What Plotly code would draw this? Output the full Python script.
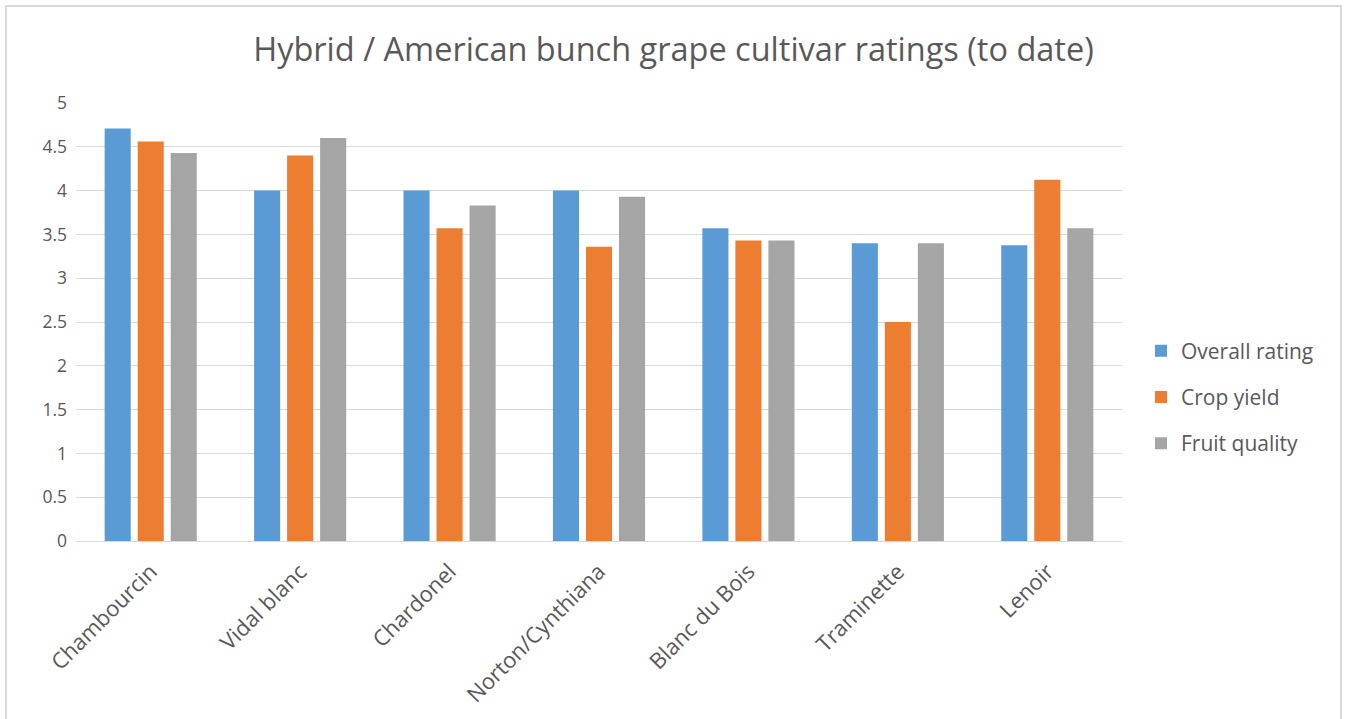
import plotly.graph_objects as go

categories = ["Chambourcin", "Vidal blanc", "Chardonel", "Norton/Cynthiana",
              "Blanc du Bois", "Traminette", "Lenoir"]
overall_rating = [4.71, 4.0, 4.0, 4.0, 3.57, 3.4, 3.375]
crop_yield = [4.56, 4.4, 3.57, 3.36, 3.43, 2.5, 4.125]
fruit_quality = [4.43, 4.6, 3.83, 3.93, 3.43, 3.4, 3.57]
y_ticks = [0, 0.5, 1, 1.5, 2, 2.5, 3, 3.5, 4, 4.5, 5]
y_tick_labels = ["0", "0.5", "1", "1.5", "2", "2.5", "3", "3.5", "4", "4.5", "5"]

FONT = "'Open Sans', sans-serif"
TXT = "#595959"

fig = go.Figure()
series = [("Overall rating", overall_rating, "#5b9bd5"),
          ("Crop yield", crop_yield, "#ed7d31"),
          ("Fruit quality", fruit_quality, "#a5a5a5")]
for i, (name, vals, col) in enumerate(series):
    fig.add_trace(go.Bar(x=categories, y=vals, name=name, legendgroup=f"g{i}",
                         marker=dict(color=col, line=dict(width=0))))

W, H = 1347, 719
L, R, T, B = 76, 225, 103, 178
PW, PH = W - L - R, H - T - B
fig.update_layout(
    width=W, height=H,
    margin=dict(l=L, r=R, t=T, b=B, pad=0, autoexpand=False),
    paper_bgcolor="white", plot_bgcolor="white",
    barmode="group", bargap=0.337, bargroupgap=0.21,
    font=dict(family=FONT, color=TXT, size=17),
    title=dict(text="Hybrid / American bunch grape cultivar ratings (to date)",
               x=0.5, xref="container", xanchor="center", y=1 - 50 / H, yanchor="middle",
               font=dict(size=32.5, color=TXT, family=FONT)),
    legend=dict(x=(1141 - L) / PW, xanchor="left", y=(541 - 397) / PH,
                yanchor="middle", tracegroupgap=16, font=dict(size=21, color=TXT),
                itemwidth=30, bgcolor="rgba(0,0,0,0)"),
    showlegend=True,
)
fig.update_xaxes(tickangle=-45, showgrid=False, showline=True, linecolor="#d9d9d9",
                 linewidth=1, ticks="", ticklabelstandoff=8, automargin=False,
                 tickfont=dict(size=22, color=TXT))
fig.update_yaxes(range=[0, 5], tickvals=y_ticks, ticktext=y_tick_labels,
                 showgrid=True, gridcolor="#d9d9d9", gridwidth=1, zeroline=False,
                 showline=False, ticks="", ticklabelstandoff=8, automargin=False,
                 tickfont=dict(size=17.5, color=TXT))
# outer chart border
fig.add_shape(type="rect", xref="paper", yref="paper",
              x0=-(L - 6) / PW, x1=1 + (R - 6) / PW,
              y0=-(B + 10) / PH, y1=1 + (T - 6) / PH,
              line=dict(color="#d9d9d9", width=2), fillcolor="rgba(0,0,0,0)", layer="below")

fig.write_html("out.html")
